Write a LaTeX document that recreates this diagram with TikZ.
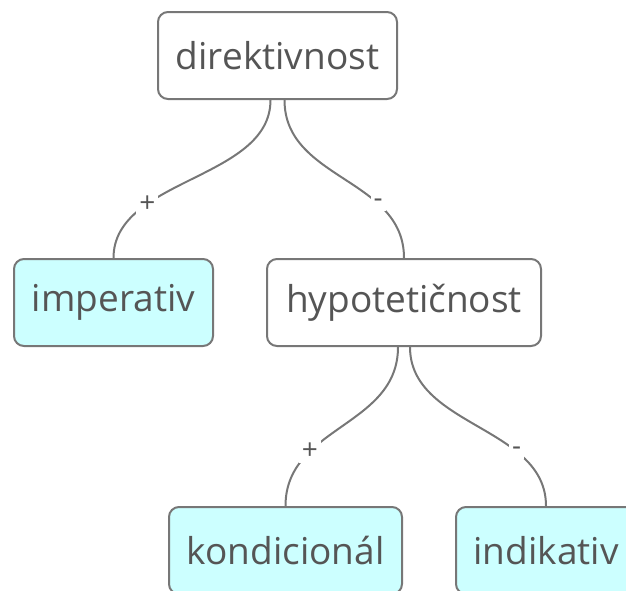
\documentclass[tikz,border=0pt]{standalone}
\usepackage{fontspec}
\setmainfont{Open Sans}
\definecolor{leafc}{HTML}{CCFFFF}
\definecolor{linec}{HTML}{777777}
\definecolor{textc}{HTML}{555555}
\begin{document}
\begin{tikzpicture}[x=1pt,y=-1pt,
  box/.style={draw=linec, line width=2pt, rounded corners=10pt, minimum height=87pt, inner sep=0pt, text=textc, font=\fontsize{37}{37}\selectfont},
  leaf/.style={box, fill=leafc},
  conn/.style={draw=linec, line width=2pt},
  lbl/.style={fill=white, inner sep=3pt, text=textc, font=\fontsize{28}{28}\selectfont}
]
\useasboundingbox (0,0) rectangle (626,590);
\clip (0,0) rectangle (626,590);
\node[box, minimum width=239pt] (dir) at (277.5,55.5) {direktivnost};
\node[leaf, minimum width=199pt] (imp) at (113.5,302.5) {imperativ};
\node[box, minimum width=274pt] (hyp) at (404,302.5) {hypotetičnost};
\node[leaf, minimum width=233pt] (kon) at (285.5,550.5) {kondicionál};
\node[leaf, minimum width=180pt] (ind) at (546,550.5) {indikativ};
\draw[conn] ([xshift=-7pt]dir.south) .. controls +(0,80) and +(0,-80) .. (imp.north) node[lbl, pos=0.7] {+};
\draw[conn] ([xshift=7pt]dir.south) .. controls +(0,80) and +(0,-80) .. (hyp.north) node[lbl, pos=0.7] {-};
\draw[conn] ([xshift=-6pt]hyp.south) .. controls +(0,80) and +(0,-80) .. (kon.north) node[lbl, pos=0.7] {+};
\draw[conn] ([xshift=6pt]hyp.south) .. controls +(0,80) and +(0,-80) .. (ind.north) node[lbl, pos=0.7] {-};
\end{tikzpicture}
\end{document}
